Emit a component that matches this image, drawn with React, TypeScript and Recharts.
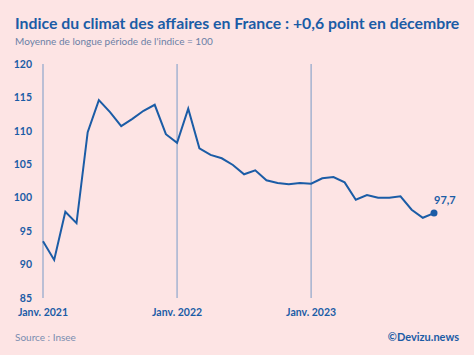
import React from "react";
import { LineChart, Line, XAxis, YAxis, ReferenceLine } from "recharts";

const BG = "#fde4e4";
const BLUE = "#1b5ca6";

// Indice mensuel, janv. 2021 -> déc. 2023
const months = [
  "Janv. 2021", "Févr. 2021", "Mars 2021", "Avr. 2021", "Mai 2021", "Juin 2021",
  "Juil. 2021", "Août 2021", "Sept. 2021", "Oct. 2021", "Nov. 2021", "Déc. 2021",
  "Janv. 2022", "Févr. 2022", "Mars 2022", "Avr. 2022", "Mai 2022", "Juin 2022",
  "Juil. 2022", "Août 2022", "Sept. 2022", "Oct. 2022", "Nov. 2022", "Déc. 2022",
  "Janv. 2023", "Févr. 2023", "Mars 2023", "Avr. 2023", "Mai 2023", "Juin 2023",
  "Juil. 2023", "Août 2023", "Sept. 2023", "Oct. 2023", "Nov. 2023", "Déc. 2023",
];
const climat = [
  93.5, 90.7, 97.9, 96.2, 109.8, 114.6, 112.8, 110.7, 111.8, 113.0, 113.9, 109.5,
  108.2, 113.3, 107.4, 106.4, 105.9, 104.9, 103.5, 104.1, 102.6, 102.2, 102.0, 102.2,
  102.1, 102.9, 103.1, 102.3, 99.7, 100.4, 100.0, 100.0, 100.2, 98.2, 97.0, 97.7,
];
const yTicks = [85, 90, 95, 100, 105, 110, 115, 120];
const yearStarts = ["Janv. 2021", "Janv. 2022", "Janv. 2023"];

const data = months.map((m, i) => ({ month: m, value: climat[i] }));

const LastDot = (props: any) => {
  const { cx, cy, index, value } = props;
  if (index !== data.length - 1) return <g key={`d-${index}`} />;
  return (
    <g key={`d-${index}`}>
      <circle cx={cx} cy={cy} r={3.5} fill={BLUE} />
      <text x={cx} y={cy - 9} fill={BLUE} fontSize={11} fontWeight={700} fontFamily="Lato">
        {String(value).replace(".", ",")}
      </text>
    </g>
  );
};

export default function App() {
  return (
    <div
      style={{
        position: "fixed",
        left: 0,
        top: 0,
        width: 474,
        height: 355,
        background: BG,
        fontFamily: "Lato, sans-serif",
        overflow: "hidden",
      }}
    >
      <div style={{ position: "absolute", left: 15, top: 13, fontSize: 15.8, fontWeight: 700, color: BLUE, whiteSpace: "nowrap" }}>
        Indice du climat des affaires en France : +0,6 point en décembre
      </div>
      <div style={{ position: "absolute", left: 15, top: 35, fontSize: 10, color: "#6b80a6", whiteSpace: "nowrap" }}>
        Moyenne de longue période de l'indice = 100
      </div>
      <div style={{ position: "absolute", left: 0, top: 0 }}>
        <LineChart width={474} height={355} data={data} margin={{ top: 64, right: 40, bottom: 47, left: 0 }}>
          {yearStarts.map((m) => (
            <ReferenceLine key={m} x={m} stroke="#8ea6cb" strokeWidth={1.2} />
          ))}
          <XAxis
            dataKey="month"
            ticks={yearStarts}
            interval={0}
            axisLine={false}
            tickLine={false}
            tickSize={0}
            tickMargin={11}
            height={10}
            tick={{ fill: BLUE, fontSize: 10.5, fontWeight: 700, fontFamily: "Lato" }}
          />
          <YAxis
            domain={[85, 120]}
            ticks={yTicks}
            width={43}
            axisLine={false}
            tickLine={false}
            tickSize={0}
            tickMargin={11}
            tick={{ fill: BLUE, fontSize: 10.5, fontWeight: 700, fontFamily: "Lato" }}
          />
          <Line
            type="linear"
            dataKey="value"
            stroke={BLUE}
            strokeWidth={2}
            dot={LastDot}
            activeDot={false}
            isAnimationActive={false}
          />
        </LineChart>
      </div>
      <div style={{ position: "absolute", left: 15, top: 331, fontSize: 10, color: "#7a8db0" }}>Source : Insee</div>
      <div style={{ position: "absolute", right: 15, top: 330, fontSize: 11, fontWeight: 700, color: BLUE }}>©Devizu.news</div>
    </div>
  );
}
